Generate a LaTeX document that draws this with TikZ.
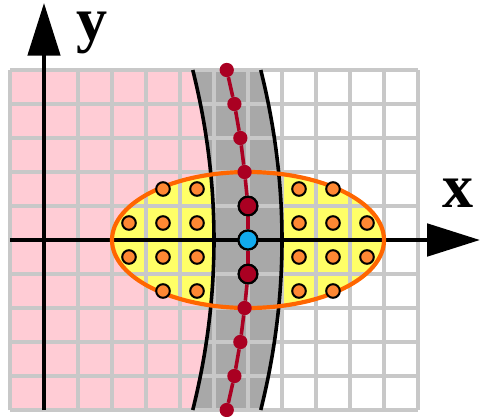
\documentclass[tikz,border=0pt]{standalone}
\usepackage{fontspec}
\setmainfont{Liberation Serif}
\usetikzlibrary{arrows.meta}
\definecolor{pinkbg}{HTML}{FFCCD5}
\definecolor{bandgray}{HTML}{A8A8A8}
\definecolor{gridgray}{HTML}{C8C8C8}
\definecolor{yellowfill}{HTML}{FFFF66}
\definecolor{orangeline}{HTML}{FF6600}
\definecolor{orangedot}{HTML}{FF8833}
\definecolor{darkred}{HTML}{AA0022}
\definecolor{bluedot}{HTML}{11AAEE}
\tikzset{
  gridline/.style={draw=gridgray, line width=3pt},
  bandedge/.style={draw=black, line width=3pt},
  axisline/.style={draw=black, line width=3.3pt, -{Triangle[length=1.55cm,width=0.95cm]}},
  ellline/.style={draw=orangeline, line width=3.5pt},
  redline/.style={draw=darkred, line width=3pt},
  smallred/.style={circle, fill=darkred, inner sep=0pt, minimum size=0.42cm},
  bigred/.style={circle, fill=darkred, draw=black, line width=1.8pt, inner sep=0pt, minimum size=0.55cm},
  bluept/.style={circle, fill=bluedot, draw=black, line width=1.8pt, inner sep=0pt, minimum size=0.56cm},
  orangept/.style={circle, fill=orangedot, draw=black, line width=1.7pt, inner sep=0pt, minimum size=0.4cm},
  axlabel/.style={font=\bfseries\fontsize{52}{52}\selectfont, inner sep=0pt, anchor=base, text height=0.46em, text depth=0.22em}
}
\begin{document}
\begin{tikzpicture}
\useasboundingbox (-1.2941,-5.1765) rectangle (12.8235,7.0588);
% background regions
\fill[pinkbg] (-1,-5) -- (4.375,-5) .. controls (5.2083,-1.6667) and (5.2083,1.6667) .. (4.375,5) -- (-1,5) -- cycle;
\fill[yellowfill] (6,0) ellipse (4 and 2);
\fill[bandgray] (4.375,-5) .. controls (5.2083,-1.6667) and (5.2083,1.6667) .. (4.375,5)
  -- (6.375,5) .. controls (7.2083,1.6667) and (7.2083,-1.6667) .. (6.375,-5) -- cycle;
% grid
\draw[gridline] (-1,-5) grid (11,5);
% band edges
\draw[bandedge] (4.375,-5) .. controls (5.2083,-1.6667) and (5.2083,1.6667) .. (4.375,5);
\draw[bandedge] (6.375,-5) .. controls (7.2083,-1.6667) and (7.2083,1.6667) .. (6.375,5);
% axes
\coordinate (ybot) at (0,-5);
\coordinate (ytop) at (0,6.97);
\coordinate (xleft) at (-1,0);
\coordinate (xright) at (12.82,0);
\draw[axisline] (ybot) -- (ytop);
\draw[axisline] (xleft) -- (xright);
\node[axlabel] (ylab) at (1.40,5.88) {y};
\node[axlabel] (xlab) at (12.18,0.97) {x};
% ellipse outline
\draw[ellline] (6,0) ellipse (4 and 2);
% red curve points
\foreach \k/\nm in {5/p5,4/p4,3/p3,2/p2,-2/m2,-3/m3,-4/m4,-5/m5}{
  \node[smallred] (r\nm) at ({6-\k*\k/40},\k) {};
}
\node[bigred] (rp1) at (6,1) {};
\node[bigred] (rm1) at (6,-1) {};
\node[bluept] (c0) at (6,0) {};
\draw[redline] (rp5) -- (rp4) -- (rp3) -- (rp2) -- (rp1);
\draw[redline] (rp1) -- (c0);
\draw[redline] (c0) -- (rm1);
\draw[redline] (rm1) -- (rm2) -- (rm3) -- (rm4) -- (rm5);
\node[bigred] at (rp1) {};
\node[bigred] at (rm1) {};
\node[bluept] at (c0) {};
% orange points
\foreach \px/\py [count=\i] in {3.5/1.5,4.5/1.5,7.5/1.5,8.5/1.5,
  2.5/0.5,3.5/0.5,4.5/0.5,7.5/0.5,8.5/0.5,9.5/0.5,
  2.5/-0.5,3.5/-0.5,4.5/-0.5,7.5/-0.5,8.5/-0.5,9.5/-0.5,
  3.5/-1.5,4.5/-1.5,7.5/-1.5,8.5/-1.5}{
  \node[orangept] (o\i) at (\px,\py) {};
}
\end{tikzpicture}
\end{document}
